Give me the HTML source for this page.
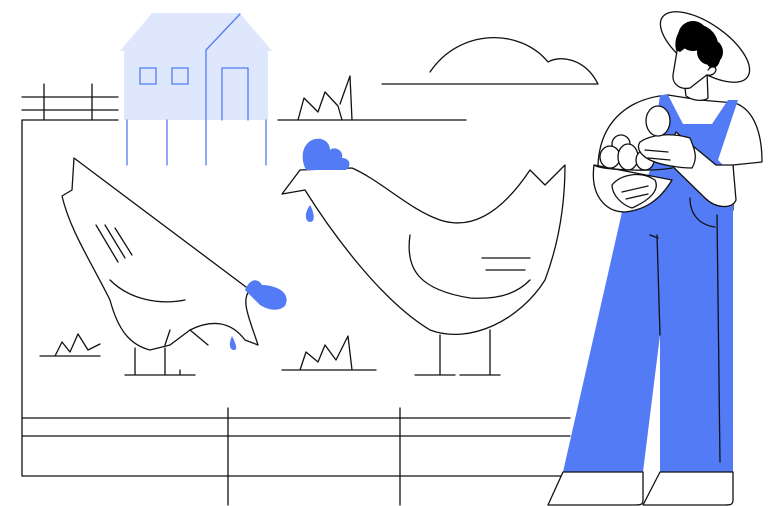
<!DOCTYPE html><html><head><style>body{margin:0;background:#fff}svg{display:block}</style></head><body>
<svg width="768" height="506" viewBox="0 0 768 506" fill="none" stroke="#111" stroke-width="1.3" stroke-linejoin="round" stroke-linecap="round">
<!-- house -->
<polygon points="120,51 152,13 240,13 272,51 268,51 268,120 124,120 124,51" fill="#dfe7fd" stroke="none"/>
<g stroke="#527bf5">
<line x1="206" y1="50" x2="206" y2="120"/><line x1="206" y1="50" x2="240" y2="14"/>
<rect x="140" y="68" width="16" height="16"/><rect x="172" y="68" width="16" height="16"/>
<path d="M222 120V68H248V120"/>
<line x1="127" y1="120" x2="127" y2="165"/><line x1="167" y1="120" x2="167" y2="165"/><line x1="206" y1="120" x2="206" y2="165"/><line x1="266" y1="120" x2="266" y2="165"/>
</g>
<!-- fence -->
<path d="M22 97H118M22 110H118M44 84V120M92 84V120"/>
<path d="M22 120H118M278 120H466M22 120V476H570M22 418H570M22 436H570M228 408V505M400 408V505"/>
<!-- cloud -->
<path d="M430 72C460 28 520 28 548 62C560 55 585 58 598 84H382"/>
<!-- grass -->
<path d="M298 120L304 98L318 112L325 92L338 106L342 120M340 104L350 76L352 120"/>
<path d="M40 356H100M55 356L62 342L70 352L78 334L88 350L100 344"/>
<path d="M282 370H376M300 370L306 352L318 362L325 345L336 360L348 336L352 370"/>
<!-- hen 1 -->
<path d="M62 196L72 190L74 158L250 290C240 300 250 320 258 345L245 340C230 320 210 320 190 330L170 345L150 350C130 345 118 330 110 300C90 260 70 230 62 196Z" fill="#fff"/>
<path d="M96 225L118 262M105 225L125 258M115 228L132 255M110 280C130 300 160 305 185 300M170 330L165 345M190 330L208 345"/>
<path d="M135 348V375M165 348V375M125 375H160M160 375H195M180 370V375"/>
<path d="M245 290C250 278 258 278 262 285C275 285 292 292 285 306C278 312 268 310 260 305Z" fill="#527bf5" stroke="none"/>
<path d="M232 336C228 345 230 350 234 350C238 350 236 344 232 336Z" fill="#527bf5" stroke="none"/>
<!-- hen 2 -->
<path d="M300 170L282 194L305 190C330 230 380 300 430 330C470 345 520 320 545 280C560 240 565 200 565 165L545 185L530 170C500 215 470 230 440 220C410 210 380 180 352 168Z" fill="#fff"/>
<path d="M410 235C405 270 420 290 470 298C505 300 520 290 530 280M482 258H530M486 270H525M440 335V375M490 330V375M415 375H455M460 375H500"/>
<path d="M306 170C300 158 302 145 312 140C322 136 330 142 330 150C334 146 344 150 342 158C350 158 352 166 346 170Z" fill="#527bf5" stroke="none"/>
<path d="M310 205C303 215 306 222 310 222C315 222 315 214 310 205Z" fill="#527bf5" stroke="none"/>
<!-- farmer -->
<path d="M598 165C600 120 630 98 668 95L700 100L735 103C755 110 762 135 762 162L733 165L733 210L640 215Z" fill="#fff"/>
<path d="M660 95L668 95L683 124L712 124L728 100L738 100L718 160L733 175L733 472L660 472L660 335L643 472L563 472L622 212L640 200L650 170Z" fill="#527bf5" stroke="none"/>
<path d="M548 505L563 472H643V500C643 505 640 505 635 505ZM643 505L660 472H733V500C733 505 730 505 725 505Z" fill="#fff"/>
<path d="M657 235L660 335M717 215L720 462M690 198C690 215 700 225 715 227M650 235L658 238"/>
<path d="M676 132L716 165L733 165L736 200C732 210 715 208 705 198L664 158Z" fill="#fff"/>
<path d="M684 80L686 96C695 102 705 101 708 98L707 72" fill="#fff"/>
<ellipse cx="705" cy="47" rx="52" ry="23" transform="rotate(35 705 47)" fill="#fff"/>
<path d="M678 45L673 75C672 84 680 90 690 88L708 74L712 60L700 40Z" fill="#fff"/>
<path d="M676 50C672 30 690 18 702 25C712 28 720 38 718 50C722 58 720 66 714 68L708 66L706 52C700 50 692 50 688 46L680 52Z" fill="#000" stroke="none"/>
<circle cx="693" cy="36" r="15" fill="#000" stroke="none"/>
<circle cx="710" cy="52" r="13" fill="#000" stroke="none"/>
<path d="M708 70C711 66 716 66 716 70C715 74 711 76 707 75" fill="#fff"/>
<path d="M594 165C590 195 605 212 625 212C645 210 660 200 672 180Z" fill="#fff"/>
<ellipse cx="621" cy="144" rx="9" ry="9" fill="#fff"/>
<ellipse cx="610" cy="157" rx="10" ry="11" fill="#fff"/>
<ellipse cx="628" cy="157" rx="10" ry="13" fill="#fff"/>
<ellipse cx="645" cy="160" rx="9" ry="10" fill="#fff"/>
<path d="M594 165C600 170 650 172 672 168"/>
<path d="M640 142C650 135 670 132 690 138C695 150 698 158 692 168C680 168 660 165 650 160C640 155 636 148 640 142Z" fill="#fff"/>
<ellipse cx="658" cy="121" rx="12" ry="15" fill="#fff"/>
<path d="M645 150L668 152M648 158L670 160"/>
<path d="M612 185C620 175 640 170 655 180C660 190 650 200 632 208C622 205 612 195 612 185Z" fill="#fff"/>
<path d="M622 192L648 186M626 199L648 194"/>
</svg>
</body></html>
